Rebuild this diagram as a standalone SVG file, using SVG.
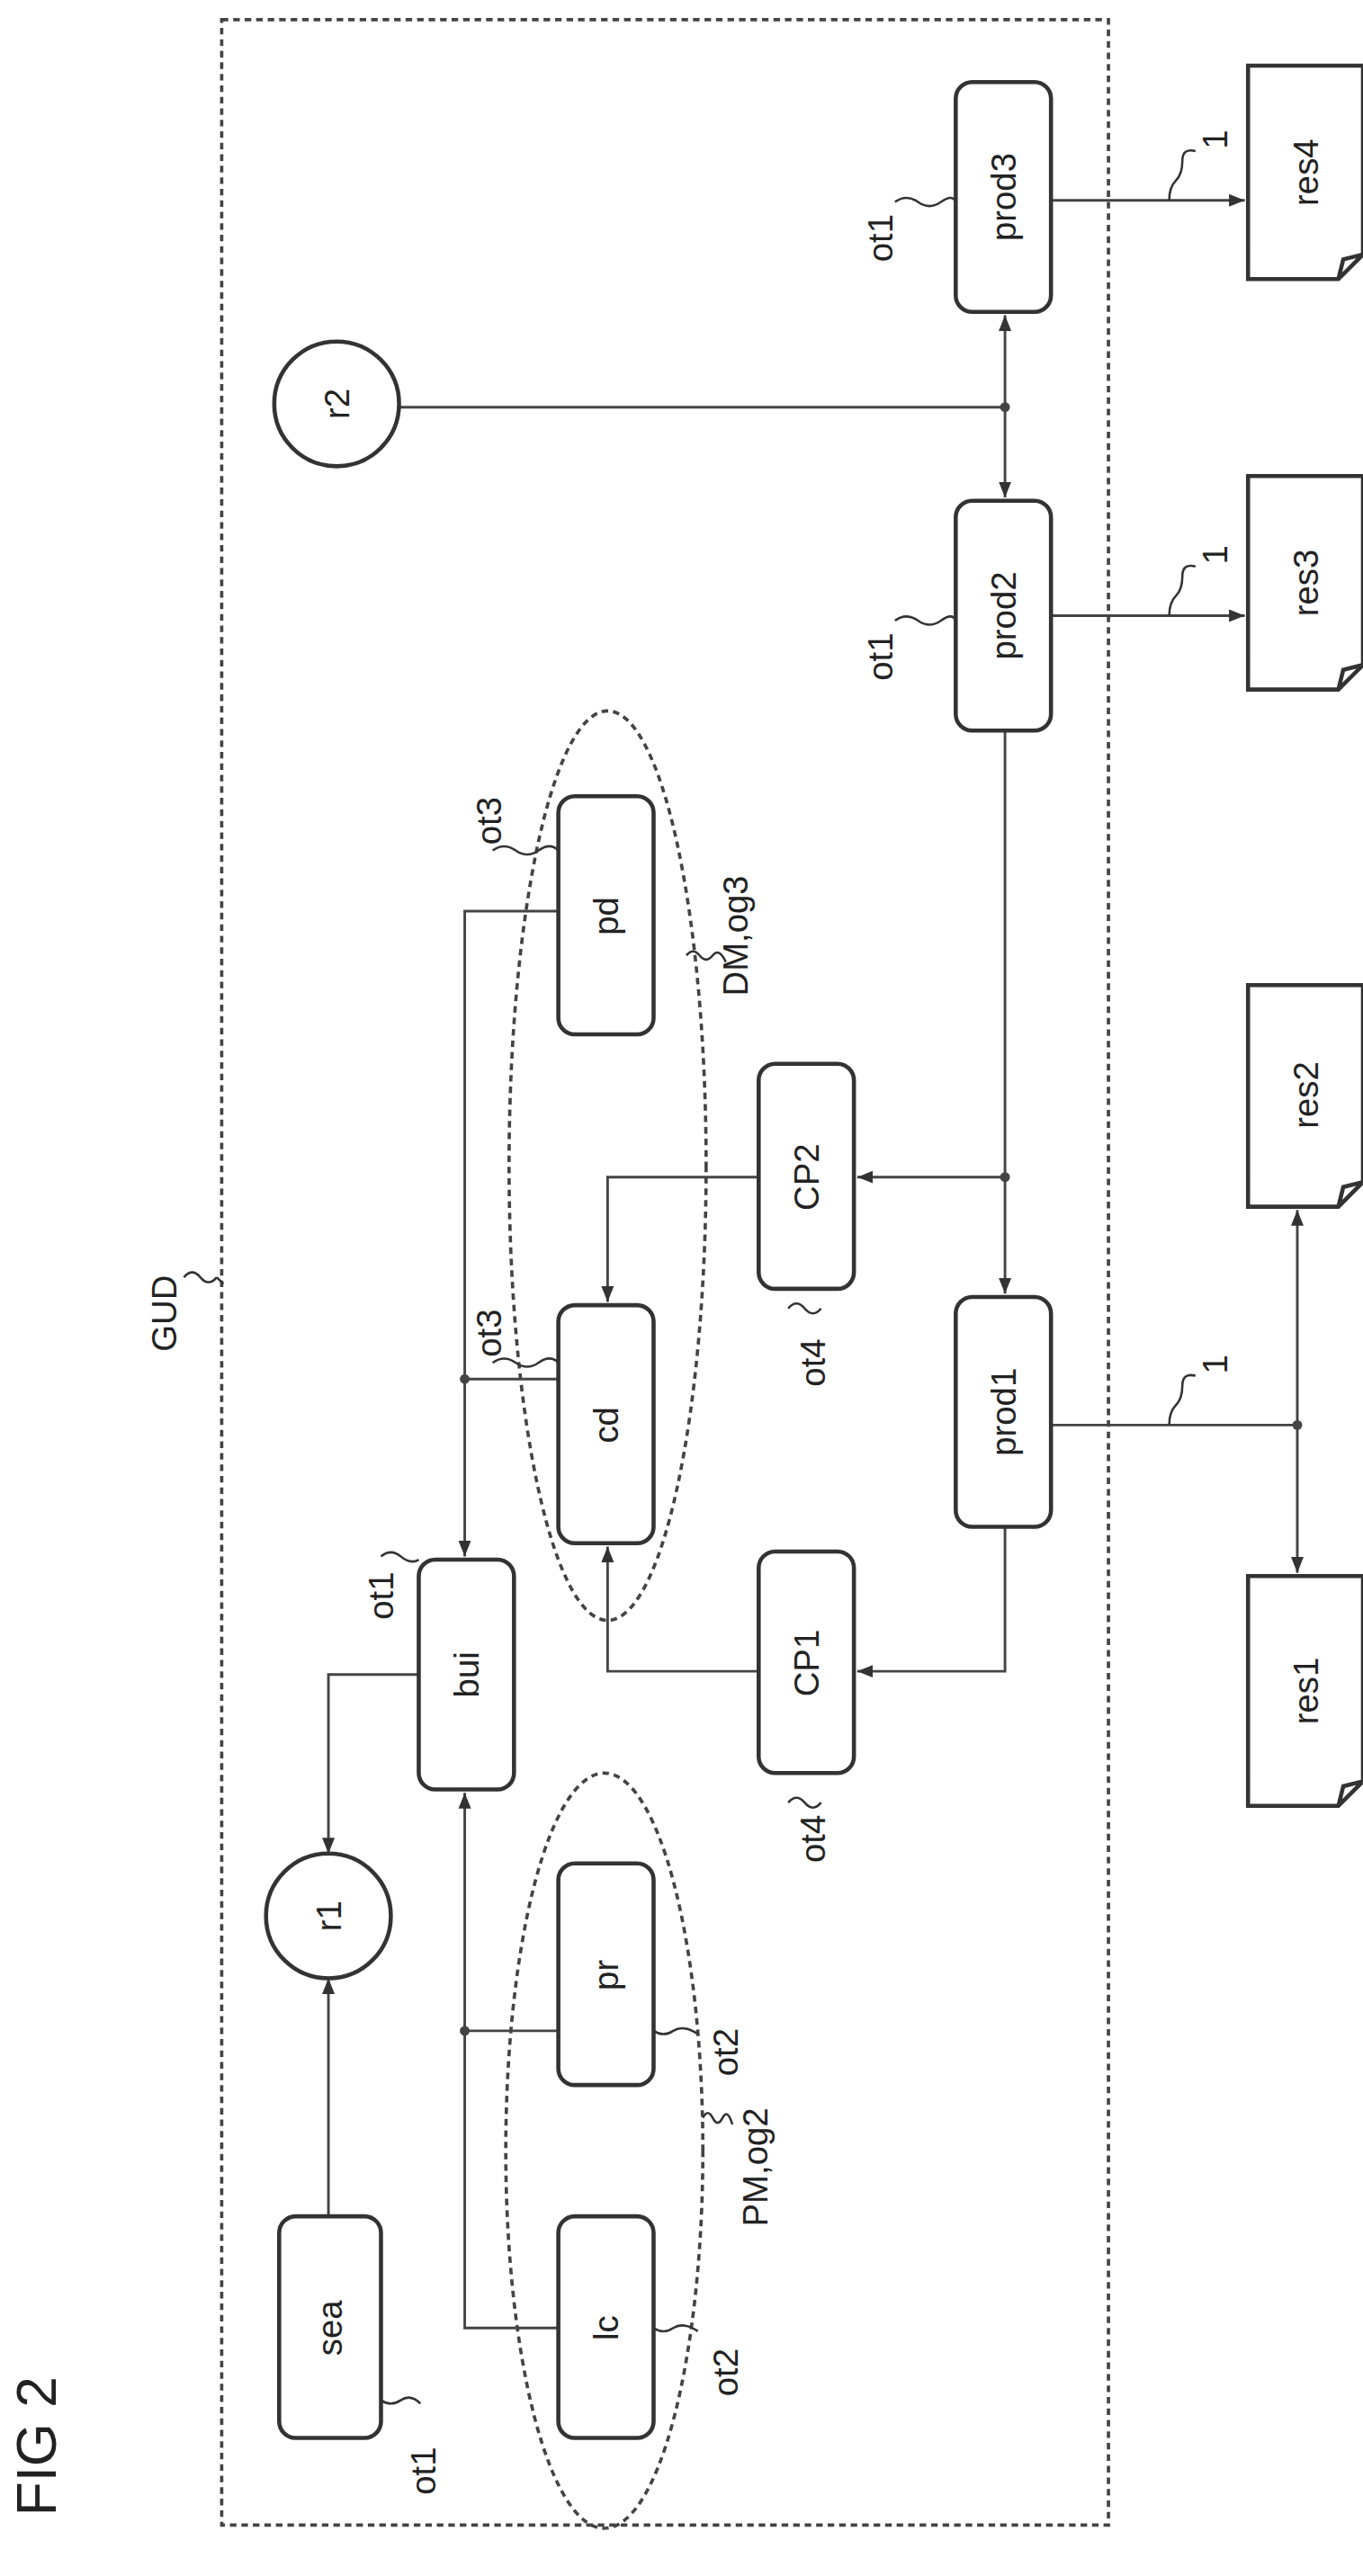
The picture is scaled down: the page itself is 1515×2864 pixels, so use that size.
<svg xmlns="http://www.w3.org/2000/svg" width="1515" height="2864" viewBox="0 0 1515 2864">
<defs>
<marker id="a" viewBox="0 0 10 10" refX="10" refY="5" markerWidth="6" markerHeight="6" orient="auto-start-reverse"><path d="M0,1 L10,5 L0,9 z" fill="#333"/></marker>
<style>
.n{fill:#fff;stroke:#333;stroke-width:2.5}
.c{fill:none;stroke:#444;stroke-width:1.6}
.d{fill:none;stroke:#444;stroke-width:2;stroke-dasharray:4,3}
.l{fill:none;stroke:#333;stroke-width:1.4}
text{font-family:"Liberation Sans",Arial,sans-serif;font-size:21px;fill:#222;text-anchor:middle;dominant-baseline:central}
.big{font-size:34px}
</style>
</defs>
<rect width="1515" height="2864" fill="#fff"/>
<g transform="scale(1.8253)">
<rect class="d" x="135" y="12" width="540" height="1526"/>
<g id="labels">
<text class="big" transform="translate(22,1490) rotate(-90)">FIG 2</text>
<text transform="translate(100,800) rotate(-90)">GUD</text>
<path class="l" d="M112,778 q5,-6 10,0 t10,0 M132,778 L136,782"/>
</g>
<g id="ellipses">
<ellipse class="d" cx="368" cy="1310" rx="60" ry="230"/>
<ellipse class="d" cx="370" cy="710" rx="60" ry="277"/>
</g>
<g id="connectors">
<path class="c" d="M200,1350 V1205" marker-end="url(#a)"/>
<path class="c" d="M340,1418 H283 V1092" marker-end="url(#a)"/>
<path class="c" d="M340,1237 H283"/>
<path class="c" d="M255,1020 H200 V1129" marker-end="url(#a)"/>
<path class="c" d="M340,555 H283 V948" marker-end="url(#a)"/>
<path class="c" d="M340,840 H283"/>
<path class="c" d="M462,1018 H370 V942" marker-end="url(#a)"/>
<path class="c" d="M612,930 V1018 H522" marker-end="url(#a)"/>
<path class="c" d="M462,717 H370 V793" marker-end="url(#a)"/>
<path class="c" d="M612,445 V788" marker-end="url(#a)"/>
<path class="c" d="M612,717 H522" marker-end="url(#a)"/>
<path class="c" d="M243,248 H612"/>
<path class="c" d="M612,248 V192" marker-end="url(#a)"/>
<path class="c" d="M612,248 V303" marker-end="url(#a)"/>
<path class="c" d="M640,122 H758" marker-end="url(#a)"/>
<path class="c" d="M640,375 H758" marker-end="url(#a)"/>
<path class="c" d="M640,868 H790"/>
<path class="c" d="M790,868 V737" marker-end="url(#a)"/>
<path class="c" d="M790,868 V958" marker-end="url(#a)"/>
<g fill="#444"><circle cx="283" cy="1237" r="3"/><circle cx="283" cy="840" r="3"/><circle cx="612" cy="717" r="3"/><circle cx="612" cy="248" r="3"/><circle cx="790" cy="868" r="3"/></g>
</g>
<g id="sea"><rect class="n" x="170" y="1350" width="62" height="135" rx="10"/><text transform="translate(201,1418) rotate(-90)">sea</text></g>
<g id="lc"><rect class="n" x="340" y="1350" width="58" height="135" rx="10"/><text transform="translate(369,1418) rotate(-90)">lc</text></g>
<g id="pr"><rect class="n" x="340" y="1135" width="58" height="135" rx="10"/><text transform="translate(369,1203) rotate(-90)">pr</text></g>
<g id="r1"><circle class="n" cx="200" cy="1167" r="38"/><text transform="translate(200,1167) rotate(-90)">r1</text></g>
<g id="bui"><rect class="n" x="255" y="950" width="58" height="140" rx="10"/><text transform="translate(284,1020) rotate(-90)">bui</text></g>
<g id="CP1"><rect class="n" x="462" y="945" width="58" height="135" rx="10"/><text transform="translate(491,1013) rotate(-90)">CP1</text></g>
<g id="cd"><rect class="n" x="340" y="795" width="58" height="145" rx="10"/><text transform="translate(369,868) rotate(-90)">cd</text></g>
<g id="prod1"><rect class="n" x="582" y="790" width="58" height="140" rx="10"/><text transform="translate(611,860) rotate(-90)">prod1</text></g>
<g id="CP2"><rect class="n" x="462" y="648" width="58" height="137" rx="10"/><text transform="translate(491,717) rotate(-90)">CP2</text></g>
<g id="pd"><rect class="n" x="340" y="485" width="58" height="145" rx="10"/><text transform="translate(369,558) rotate(-90)">pd</text></g>
<g id="prod2"><rect class="n" x="582" y="305" width="58" height="140" rx="10"/><text transform="translate(611,375) rotate(-90)">prod2</text></g>
<g id="prod3"><rect class="n" x="582" y="50" width="58" height="140" rx="10"/><text transform="translate(611,120) rotate(-90)">prod3</text></g>
<g id="r2"><circle class="n" cx="205" cy="246" r="38"/><text transform="translate(205,246) rotate(-90)">r2</text></g>
<g id="res1"><path class="n" d="M760,960 H830 V1085 L815,1100 H760 Z M815,1100 L818,1088 L830,1085"/><text transform="translate(795,1030) rotate(-90)">res1</text></g>
<g id="res2"><path class="n" d="M760,600 H830 V720 L815,735 H760 Z M815,735 L818,723 L830,720"/><text transform="translate(795,667) rotate(-90)">res2</text></g>
<g id="res3"><path class="n" d="M760,290 H830 V405 L815,420 H760 Z M815,420 L818,408 L830,405"/><text transform="translate(795,355) rotate(-90)">res3</text></g>
<g id="res4"><path class="n" d="M760,40 H830 V155 L815,170 H760 Z M815,170 L818,158 L830,155"/><text transform="translate(795,105) rotate(-90)">res4</text></g>
<g id="annot">
<text transform="translate(258,1505) rotate(-90)">ot1</text><path class="l" d="M232,1462 q6,4 12,0 t12,2"/>
<text transform="translate(442,1445) rotate(-90)">ot2</text><path class="l" d="M398,1418 q6,4 12,0 t15,2"/>
<text transform="translate(442,1250) rotate(-90)">ot2</text><path class="l" d="M398,1237 q6,4 12,0 t15,2"/>
<text transform="translate(460,1320) rotate(-90)">PM,og2</text><path class="l" d="M428,1290 q3,-6 6,0 t6,0 t6,4"/>
<text transform="translate(232,972) rotate(-90)">ot1</text><path class="l" d="M232,948 q6,-5 12,0 t11,2"/>
<text transform="translate(495,1120) rotate(-90)">ot4</text><path class="l" d="M480,1098 q5,-6 10,0 t10,0"/>
<text transform="translate(298,812) rotate(-90)">ot3</text><path class="l" d="M300,830 q7,-5 14,0 t14,0 t12,0"/>
<text transform="translate(495,830) rotate(-90)">ot4</text><path class="l" d="M480,797 q5,-6 10,0 t10,0"/>
<text transform="translate(298,500) rotate(-90)">ot3</text><path class="l" d="M300,518 q7,-5 14,0 t14,0 t12,0"/>
<text transform="translate(448,570) rotate(-90)">DM,og3</text><path class="l" d="M418,582 q4,-5 8,0 t8,0 t8,4"/>
<text transform="translate(536,400) rotate(-90)">ot1</text><path class="l" d="M545,378 q7,-5 14,0 t14,0 t9,0"/>
<text transform="translate(536,145) rotate(-90)">ot1</text><path class="l" d="M545,123 q7,-5 14,0 t14,0 t9,0"/>
<text transform="translate(740,85) rotate(-90)">1</text><path class="l" d="M712,122 q0,-8 4,-12 t4,-12 t8,-6"/>
<text transform="translate(740,338) rotate(-90)">1</text><path class="l" d="M712,375 q0,-8 4,-12 t4,-12 t8,-6"/>
<text transform="translate(740,831) rotate(-90)">1</text><path class="l" d="M712,868 q0,-8 4,-12 t4,-12 t8,-6"/>
</g>
</g>
</svg>
